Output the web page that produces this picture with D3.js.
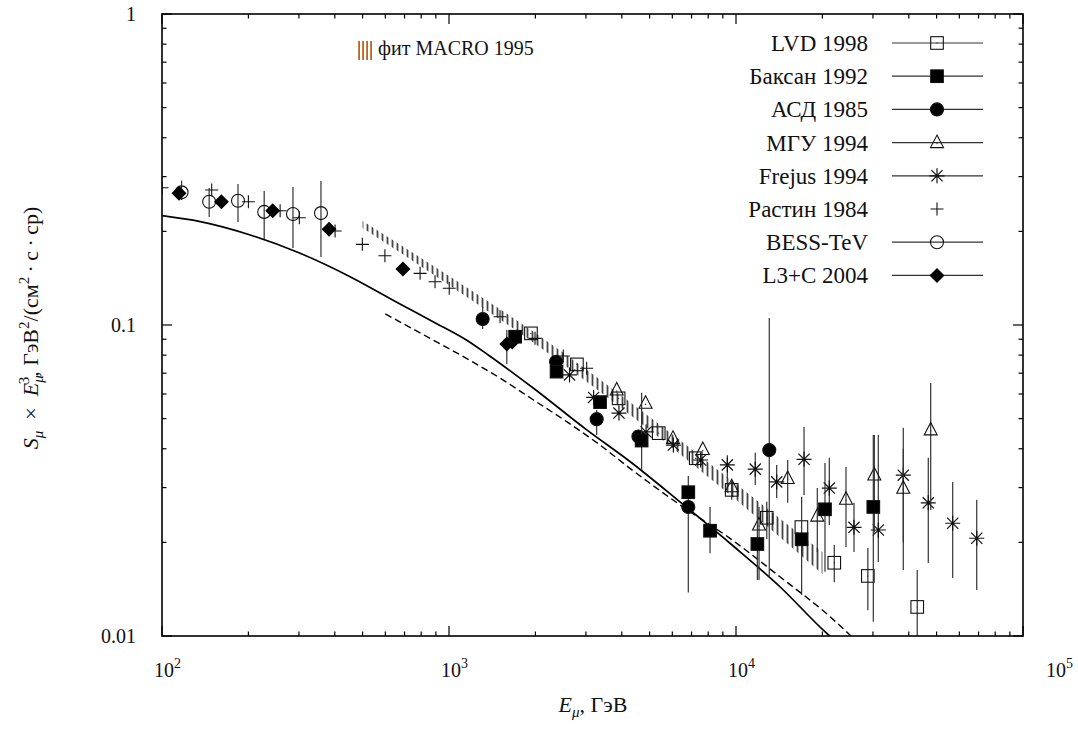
<!DOCTYPE html>
<html>
<head>
<meta charset="utf-8">
<script src="https://d3js.org/d3.v7.min.js"></script>
<style>
  body { margin: 0; background: #fff; }
  svg text { font-family: "Liberation Serif", "DejaVu Serif", serif; fill: #111; }
</style>
</head>
<body>
<script>
// axis ranges and tick labels
var xDomain = [100, 1e5], yDomain = [0.01, 1];
var xTicks = [100, 1000, 10000, 100000];
var xTickExp = ["2", "3", "4", "5"];
var yTicks = [0.01, 0.1, 1];
var yTickLabels = ["0.01", "0.1", "1"];

// rows: [E, S, errLow, errHigh]
var lvd = [[1930, 0.0940], [2790, 0.0747], [3900, 0.0581], [5380, 0.0449], [7240, 0.0373],
  [9660, 0.0295, 0.0274, 0.0318], [12800, 0.0240, 0.0205, 0.0270], [16900, 0.0224],
  [22000, 0.0172, 0.0149, 0.0196], [28800, 0.0156, 0.0121, 0.0192], [42800, 0.0124, 0.0100, 0.0163]];
var baksan = [[1700, 0.0917], [2370, 0.0708], [3360, 0.0565], [4690, 0.0425, 0.0342, 0.0605],
  [6820, 0.0290], [8120, 0.0218, 0.01845, 0.0260], [11870, 0.01976, 0.01514, 0.02419],
  [16930, 0.02046, 0.01355, 0.02805], [20420, 0.02555, 0.0161, 0.0360], [30090, 0.0260, 0.01112, 0.0443]];
var asd = [[1310, 0.1045, 0.0970, 0.1143], [2360, 0.0762], [3270, 0.0498, 0.0443, 0.0533],
  [4570, 0.0438], [6820, 0.0260, 0.0138, 0.0327], [13060, 0.0396, 0.01548, 0.1053]];
var mgu = [[3840, 0.0618], [4840, 0.0560], [6030, 0.0432], [7660, 0.0398], [9660, 0.0302],
  [12030, 0.02275, 0.01514, 0.0260], [15140, 0.0321, 0.0268, 0.0368], [19200, 0.0243, 0.01863, 0.0299],
  [24170, 0.02752, 0.01933, 0.03495], [30340, 0.03294, 0.0215, 0.0443], [38270, 0.02985, 0.0200, 0.0400],
  [47690, 0.0460, 0.0254, 0.0651]];
var frejus = [[2630, 0.0691], [3190, 0.0585], [3910, 0.0521], [4860, 0.0453], [6050, 0.0411],
  [7530, 0.0368], [9330, 0.0355, 0.0322, 0.0381], [11670, 0.0344, 0.0306, 0.0388],
  [13860, 0.0313, 0.0278, 0.0355], [17260, 0.0370, 0.0284, 0.0470], [21140, 0.0299, 0.02275, 0.0374],
  [25770, 0.02236, 0.01863, 0.0268], [31320, 0.02192, 0.0173, 0.0443], [38270, 0.0329, 0.0163, 0.0467],
  [46770, 0.0268, 0.01717, 0.0374], [56890, 0.02304, 0.01537, 0.0313], [68990, 0.02062, 0.01406, 0.0274]];
var rastin = [[100, 0.2764], [149, 0.2718], [200, 0.249], [258, 0.2331], [301, 0.2213], [401, 0.2006],
  [499, 0.1817], [598, 0.167], [793, 0.1466], [894, 0.1378], [1002, 0.1312], [1506, 0.1063],
  [1994, 0.0906], [2502, 0.0795], [3018, 0.0726]];
var bess = [[117, 0.267, 0.2523, 0.2914], [146, 0.249, 0.2225, 0.2757], [184, 0.251, 0.2144, 0.284],
  [227, 0.231, 0.189, 0.2697], [286, 0.2275, 0.1768, 0.2778], [358, 0.229, 0.1654, 0.2904]];
var l3c = [[114.6, 0.2652], [161, 0.249], [243, 0.2331], [382, 0.2031], [691, 0.1514],
  [1590, 0.0869, 0.0749, 0.0964], [1660, 0.0882]];

// model curves: [E, S]
var solidCurve = [[100, 0.2246], [136, 0.2149], [203, 0.1947], [303, 0.1700], [452, 0.1430], [675, 0.1168],
  [880, 0.1025], [1150, 0.0895], [1370, 0.0801], [1970, 0.0626], [3020, 0.0460], [4270, 0.0364],
  [6380, 0.0270], [9530, 0.01987], [14230, 0.0144], [20420, 0.01032], [22000, 0.0097]];
var dashedCurve = [[600, 0.1085], [880, 0.0895], [1150, 0.0781], [1510, 0.0674], [1970, 0.0574],
  [2570, 0.0489], [3360, 0.0411], [4270, 0.0346], [6380, 0.0264], [9530, 0.0206], [14230, 0.0155],
  [21260, 0.01154], [25160, 0.0100]];

// MACRO 1995 fit band
var bandE = [500, 1000, 2000, 5000, 10000, 20000];
var bandHi = [0.2160, 0.1438, 0.0942, 0.0506, 0.0308, 0.01863];
var bandLo = [0.2051, 0.1345, 0.0869, 0.0460, 0.0274, 0.01582];

var legendNames = ["LVD 1998", "Баксан 1992", "АСД 1985", "МГУ 1994", "Frejus 1994", "Растин 1984", "BESS-TeV", "L3+C 2004"];
var legendMarks = ["sqOpen", "sqFill", "circFill", "tri", "star", "plus", "circOpen", "diam"];

var width = 1078, height = 732;
var pLeft = 162, pRight = 1023, pTop = 14, pBottom = 636;

var svg = d3.select("body").append("svg")
  .attr("width", width).attr("height", height);

var x = d3.scaleLog().domain(xDomain).range([pLeft, pRight]);
var y = d3.scaleLog().domain(yDomain).range([pBottom, pTop]);

var defs = svg.append("defs");
defs.append("clipPath").attr("id", "plotclip")
  .append("rect").attr("x", pLeft).attr("y", pTop).attr("width", pRight - pLeft).attr("height", pBottom - pTop);
var pat = defs.append("pattern").attr("id", "hatch")
  .attr("patternUnits", "userSpaceOnUse").attr("width", 5).attr("height", 10);
pat.append("line").attr("x1", 2.5).attr("x2", 2.5).attr("y1", 0).attr("y2", 10)
  .attr("stroke", "#444").attr("stroke-width", 1.8);

var plot = svg.append("g").attr("clip-path", "url(#plotclip)");

// hatched band
var band = bandE.map(function (e, i) { return { e: e, lo: bandLo[i], hi: bandHi[i] }; });
plot.append("path")
  .datum(band)
  .attr("d", d3.area().x(function (d) { return x(d.e); })
    .y0(function (d) { return y(d.lo); }).y1(function (d) { return y(d.hi); })
    .curve(d3.curveMonotoneX))
  .attr("fill", "url(#hatch)");

// curves
var line = d3.line().x(function (d) { return x(d[0]); }).y(function (d) { return y(d[1]); });
plot.append("path").datum(solidCurve).attr("d", line.curve(d3.curveMonotoneX))
  .attr("fill", "none").attr("stroke", "#000").attr("stroke-width", 1.7);
plot.append("path").datum(dashedCurve).attr("d", line.curve(d3.curveMonotoneX))
  .attr("fill", "none").attr("stroke", "#000").attr("stroke-width", 1.4)
  .attr("stroke-dasharray", "7,4");

// marker drawing
function mark(g, type, cx, cy) {
  var s = 6.3;
  if (type === "sqOpen" || type === "sqFill") {
    g.append("rect").attr("x", cx - s).attr("y", cy - s).attr("width", 2 * s).attr("height", 2 * s)
      .attr("fill", type === "sqFill" ? "#000" : "none")
      .attr("stroke", "#111").attr("stroke-width", 1.1);
    if (type === "sqOpen") g.append("circle").attr("cx", cx).attr("cy", cy).attr("r", 0.7).attr("fill", "#333");
  } else if (type === "circFill" || type === "circOpen") {
    g.append("circle").attr("cx", cx).attr("cy", cy).attr("r", 6.5)
      .attr("fill", type === "circFill" ? "#000" : "none")
      .attr("stroke", "#111").attr("stroke-width", 1.1);
  } else if (type === "tri") {
    g.append("path").attr("d", "M" + cx + "," + (cy - 7.5) + "L" + (cx + 6.5) + "," + (cy + 5) + "L" + (cx - 6.5) + "," + (cy + 5) + "Z")
      .attr("fill", "none").attr("stroke", "#111").attr("stroke-width", 1.1);
    g.append("circle").attr("cx", cx).attr("cy", cy + 1).attr("r", 0.7).attr("fill", "#333");
  } else if (type === "star") {
    var a = 7.5, b = 5.6;
    g.append("path").attr("d",
      "M" + (cx - a) + "," + cy + "H" + (cx + a) +
      "M" + cx + "," + (cy - a) + "V" + (cy + a) +
      "M" + (cx - b) + "," + (cy - b) + "L" + (cx + b) + "," + (cy + b) +
      "M" + (cx - b) + "," + (cy + b) + "L" + (cx + b) + "," + (cy - b))
      .attr("stroke", "#111").attr("stroke-width", 1.2);
  } else if (type === "plus") {
    var p = 6.5;
    g.append("path").attr("d", "M" + (cx - p) + "," + cy + "H" + (cx + p) + "M" + cx + "," + (cy - p) + "V" + (cy + p))
      .attr("stroke", "#111").attr("stroke-width", 1.1);
  } else if (type === "diam") {
    var q = 7.5;
    g.append("path").attr("d", "M" + cx + "," + (cy - q) + "L" + (cx + q) + "," + cy + "L" + cx + "," + (cy + q) + "L" + (cx - q) + "," + cy + "Z")
      .attr("fill", "#000");
  }
}

function series(data, type) {
  var g = plot.append("g");
  data.forEach(function (d) {
    if (d.length > 2) {
      g.append("line").attr("x1", x(d[0])).attr("x2", x(d[0]))
        .attr("y1", y(d[2])).attr("y2", y(d[3]))
        .attr("stroke", "#333").attr("stroke-width", 1.2);
    }
  });
  data.forEach(function (d) { mark(g, type, x(d[0]), y(d[1])); });
}

series(rastin, "plus");
series(bess, "circOpen");
series(l3c, "diam");
series(frejus, "star");
series(mgu, "tri");
series(lvd, "sqOpen");
series(asd, "circFill");
series(baksan, "sqFill");

// ticks on all four sides
var ax = svg.append("g").attr("stroke", "#000").attr("stroke-width", 1.2);
x.ticks().forEach(function (t) {
  var major = xTicks.indexOf(t) >= 0;
  var L = major ? 10 : 4.5;
  ax.append("line").attr("x1", x(t)).attr("x2", x(t)).attr("y1", pBottom).attr("y2", pBottom - L);
  ax.append("line").attr("x1", x(t)).attr("x2", x(t)).attr("y1", pTop).attr("y2", pTop + L);
});
y.ticks().forEach(function (t) {
  var major = yTicks.some(function (v) { return Math.abs(v - t) < 1e-9; });
  var L = major ? 10 : 4.5;
  ax.append("line").attr("y1", y(t)).attr("y2", y(t)).attr("x1", pLeft).attr("x2", pLeft + L);
  ax.append("line").attr("y1", y(t)).attr("y2", y(t)).attr("x1", pRight).attr("x2", pRight - L);
});
svg.append("rect").attr("x", pLeft).attr("y", pTop).attr("width", pRight - pLeft).attr("height", pBottom - pTop)
  .attr("fill", "none").attr("stroke", "#000").attr("stroke-width", 1.6);

// tick labels
yTicks.forEach(function (t, i) {
  svg.append("text").attr("x", 136).attr("y", y(t) + 6.5).attr("text-anchor", "end")
    .style("font-size", "20px").text(yTickLabels[i]);
});
xTicks.forEach(function (t, i) {
  var tx = i === xTicks.length - 1 ? x(t) + 23 : x(t) - 8;
  var tt = svg.append("text").attr("x", tx).attr("y", 677).style("font-size", "20px");
  tt.append("tspan").text("10");
  tt.append("tspan").attr("dy", -9).style("font-size", "14px").text(xTickExp[i]);
});

// rich text helper
function rich(el, parts) {
  parts.forEach(function (p) {
    var ts = el.append("tspan").text(p.t);
    if (p.it) ts.style("font-style", "italic");
    if (p.fs) ts.style("font-size", p.fs);
    if (p.dy) ts.attr("dy", p.dy);
    if (p.dx) ts.attr("dx", p.dx);
  });
}

// axis titles
var xt = svg.append("text").attr("x", 593).attr("y", 712).attr("text-anchor", "middle").style("font-size", "22px");
rich(xt, [{ t: "E", it: true }, { t: "μ", it: true, fs: "15px", dy: 5 }, { t: ", ГэВ", dy: -5 }]);

var yt = svg.append("text").attr("transform", "translate(38,328) rotate(-90)")
  .attr("text-anchor", "middle").style("font-size", "22px");
rich(yt, [
  { t: "S", it: true }, { t: "μ", it: true, fs: "15px", dy: 5 },
  { t: "\u2002×\u2002", dy: -5 }, { t: "E", it: true },
  { t: "μ", it: true, fs: "15px", dy: 5 }, { t: "3", fs: "15px", dy: -14, dx: -9 },
  { t: ", ГэВ", dy: 9 }, { t: "2", fs: "15px", dy: -9 },
  { t: "/(см", dy: 9 }, { t: "2", fs: "15px", dy: -9 },
  { t: "\u2009·\u2009с\u2009·\u2009ср)", dy: 9 }
]);

// annotation (grayscale antialiasing via a non-opaque group)
svg.append("g").attr("opacity", 0.99)
  .append("text").attr("x", 357).attr("y", 55).style("font-size", "20px").text("|||| фит MACRO 1995");

// legend
var lg = svg.append("g");
legendNames.forEach(function (name, i) {
  var ly = 43 + i * 33.2;
  lg.append("text").attr("x", 868).attr("y", ly + 8).attr("text-anchor", "end")
    .style("font-size", "23px").text(name);
  if (legendMarks[i] !== "plus") {
    lg.append("line").attr("x1", 892).attr("x2", 983).attr("y1", ly).attr("y2", ly)
      .attr("stroke", "#333").attr("stroke-width", 1.2);
  }
  mark(lg, legendMarks[i], 937, ly);
});
</script>
</body>
</html>
